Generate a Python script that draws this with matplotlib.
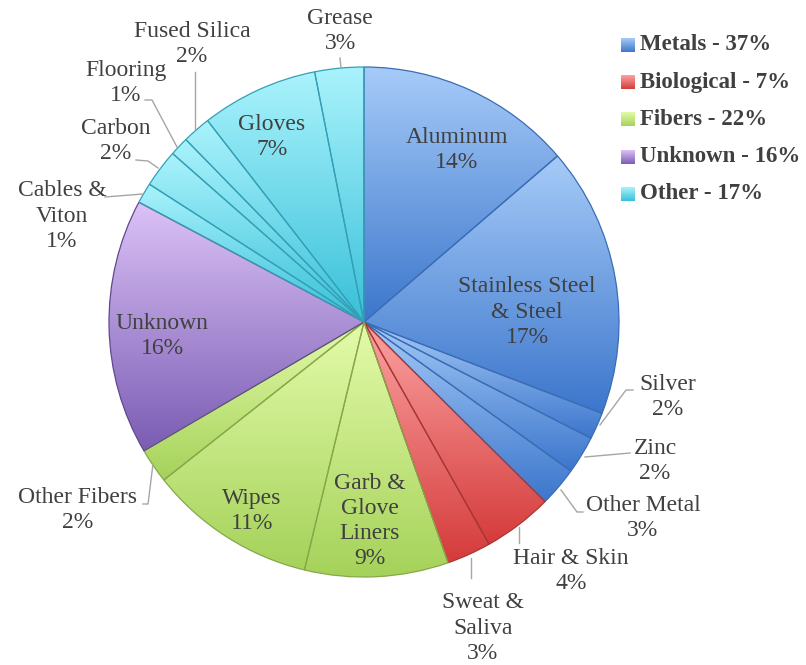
import numpy as np
import matplotlib.pyplot as plt
from matplotlib.colors import to_rgb

plt.rcParams['font.family'] = ['Liberation Serif', 'DejaVu Serif']

W, H = 806, 665

# slices, clockwise from 12 o'clock
labels = ['Aluminum', 'Stainless Steel\n& Steel', 'Silver', 'Zinc', 'Other Metal',
          'Hair & Skin', 'Sweat &\nSaliva', 'Garb &\nGlove\nLiners', 'Wipes',
          'Other Fibers', 'Unknown', 'Cables &\nViton', 'Carbon', 'Flooring',
          'Fused Silica', 'Gloves', 'Grease']
values = [13.7, 17.1, 1.7, 2.4, 2.5, 4.4, 2.8, 9.1, 10.6, 2.2, 16.2,
          1.3, 2.4, 1.2, 1.8, 7.4, 3.1]
pct_text = ['14%', '17%', '2%', '2%', '3%', '4%', '3%', '9%', '11%', '2%', '16%',
            '1%', '2%', '1%', '2%', '7%', '3%']
group_of = [0, 0, 0, 0, 0, 1, 1, 2, 2, 2, 3, 4, 4, 4, 4, 4, 4]

groups = ['Metals', 'Biological', 'Fibers', 'Unknown', 'Other']
group_pct = ['37%', '7%', '22%', '16%', '17%']

# light (top) -> dark (bottom), edge colour
GRAD = [('#a6cbf8', '#3c76cc', '#3a6db5'),
        ('#fca3a3', '#d53b3b', '#a83636'),
        ('#e4fbaa', '#a5d25a', '#86a84a'),
        ('#dcc2f7', '#7a5cb3', '#5f4a8c'),
        ('#aaf3fc', '#38c0d9', '#35a0b5')]
TXT = '#404040'
LINE = '#a6a6a6'


def px(x, y):
    # image pixel coords -> data coords
    return x, H - y


def gradient_img(light, dark, n=256):
    t = np.linspace(0, 1, n)[:, None]
    c = (1 - t) * np.array(to_rgb(light)) + t * np.array(to_rgb(dark))
    return c[:, None, :]


fig = plt.figure(figsize=(8.06, 6.65), dpi=100)
ax = fig.add_axes([0, 0, 1, 1])

cx, cy = px(364, 322)
R = 255
wedges, _ = ax.pie(values, startangle=90, counterclock=False, center=(cx, cy),
                   radius=R, wedgeprops=dict(linewidth=0.9))

for w, g in zip(wedges, group_of):
    light, dark, edge = GRAD[g]
    th = np.radians(np.linspace(w.theta1, w.theta2, 100))
    xs = np.r_[cx, cx + R * np.cos(th)]
    ys = np.r_[cy, cy + R * np.sin(th)]
    im = ax.imshow(gradient_img(light, dark), origin='upper', aspect='auto',
                   extent=(xs.min(), xs.max(), ys.min(), ys.max()), zorder=1)
    im.set_clip_path(w)
    w.set_facecolor('none')
    w.set_edgecolor(edge)
    w.set_zorder(2)

# label layout (image pixels): text centre, optional leader line points
inside = {0: (457, 150), 1: (527, 312), 7: (370, 521), 8: (252, 511),
          10: (162, 336), 15: (272, 137)}
outside = {
    2: ((668, 397), [(633, 390), (626, 390), (600, 425)]),
    3: ((655, 461), [(630, 453), (585, 457)]),
    4: ((643, 518), [(583, 512), (577, 512), (561, 490)]),
    5: ((571, 571), [(519, 543), (519, 527)]),
    6: ((483, 628), [(471, 578), (471, 558)]),
    9: ((78, 510), [(143, 504), (148, 504), (153, 464)]),
    11: ((62, 216), [(105, 197), (143, 194)]),
    12: ((116, 141), [(136, 160), (148, 161), (158, 168)]),
    13: ((126, 83), [(145, 100), (152, 100), (177, 147)]),
    14: ((192, 44), [(195, 72), (195, 129)]),
    16: ((340, 31), [(340, 58), (341, 68)]),
}

for i, (lab, pct) in enumerate(zip(labels, pct_text)):
    s = lab + '\n' + pct
    if i in inside:
        x, y = px(*inside[i])
    else:
        (tx, ty), pts = outside[i]
        x, y = px(tx, ty)
        lx = [p[0] for p in pts]
        ly = [H - p[1] for p in pts]
        ax.plot(lx, ly, color=LINE, lw=1.0, zorder=3)
    ax.text(x, y, s, ha='center', va='center', fontsize=17, color=TXT,
            linespacing=1.27, zorder=4)

# legend
for k, (g, p) in enumerate(zip(groups, group_pct)):
    yc = 45 + k * 37.2
    light, dark, edge = GRAD[k]
    x0, x1 = 621, 635
    ax.imshow(gradient_img(light, dark), origin='upper', aspect='auto',
              extent=(x0, x1, H - (yc + 7), H - (yc - 7)), zorder=3)
    ax.text(640, H - yc, f'{g} - {p}', ha='left', va='center', fontsize=16.5,
            fontweight='bold', color=TXT, zorder=4)

ax.set_xlim(0, W)
ax.set_ylim(0, H)
ax.set_aspect('equal')
ax.axis('off')

fig.savefig('out.png', dpi=100, facecolor='white')
